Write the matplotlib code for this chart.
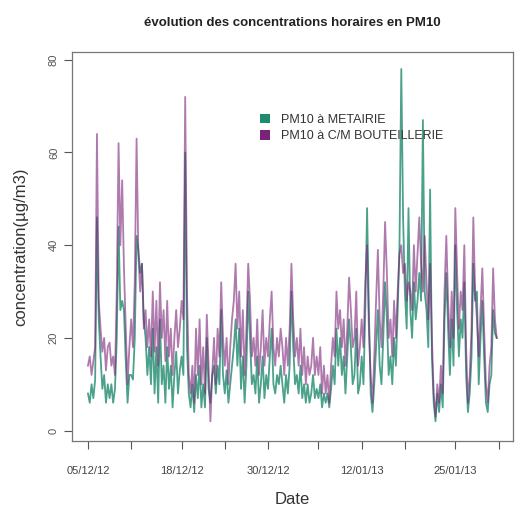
import numpy as np
import pandas as pd
import matplotlib
matplotlib.use("Agg")
import matplotlib.pyplot as plt
from matplotlib.patches import Patch

plt.rcParams["font.family"] = ["Liberation Sans", "DejaVu Sans"]

# PM10 concentrations (µg/m3), one value every 6 hours from 05/12/2012
metairie = [
    8, 6, 10, 7,     11, 46, 24, 16,   9, 12, 6, 10,     7, 10, 6, 9,
    20, 44, 26, 28,  26, 15, 6, 12,    12, 11, 20, 42,   39, 34, 36, 24,
    20, 12, 18, 10,  22, 8, 18, 6,     24, 10, 14, 6,    18, 9, 14, 5,
    12, 17, 8, 13,   16, 12, 60, 18,   8, 5, 10, 4,      12, 7, 14, 5,
    10, 5, 20, 9,    6, 12, 14, 8,     14, 10, 26, 12,   8, 13, 6, 10,
    14, 18, 24, 14,  22, 9, 16, 6,     14, 30, 20, 10,   12, 8, 16, 6,
    10, 16, 7, 12,   9, 16, 22, 10,    8, 12, 10, 14,    10, 6, 12, 8,
    14, 30, 18, 10,  12, 8, 14, 7,     10, 6, 10, 6,     8, 12, 7, 9,
    7, 10, 5, 8,     6, 8, 5, 9,       14, 10, 22, 14,   20, 12, 16, 8,
    16, 24, 18, 10,  12, 22, 8, 10,    16, 10, 26, 48,   26, 8, 4, 10,
    18, 26, 14, 10,  20, 32, 24, 12,   16, 10, 20, 14,   26, 40, 78, 46,
    30, 22, 48, 26,  20, 32, 24, 28,   34, 28, 67, 30,   26, 18, 52, 16,
    6, 2, 8, 4,      10, 5, 24, 34,    22, 12, 24, 14,   40, 26, 16, 24,
    20, 32, 12, 4,   8, 16, 36, 28,    30, 10, 20, 28,   16, 6, 4, 10,
    12, 26, 21, 20,
]
bouteillerie = [
    14, 16, 12, 15,  18, 64, 28, 22,   17, 20, 13, 18,   19, 14, 16, 12,
    30, 62, 40, 54,  35, 22, 10, 18,   24, 18, 32, 63,   38, 30, 36, 22,
    26, 18, 24, 16,  30, 17, 28, 14,   32, 20, 26, 15,   28, 16, 22, 12,
    20, 26, 18, 22,  28, 24, 72, 30,   12, 8, 14, 6,     22, 12, 24, 10,
    18, 8, 25, 14,   2, 12, 20, 10,    22, 16, 32, 20,   14, 20, 10, 18,
    24, 28, 36, 22,  30, 16, 26, 12,   22, 36, 28, 16,   20, 14, 24, 12,
    18, 26, 14, 20,  16, 24, 30, 18,   14, 20, 16, 22,   18, 12, 20, 14,
    22, 36, 24, 16,  20, 14, 22, 12,   18, 10, 16, 12,   14, 20, 12, 16,
    12, 18, 8, 14,   8, 12, 6, 14,     20, 16, 30, 22,   26, 18, 24, 14,
    22, 33, 26, 18,  20, 30, 14, 18,   24, 18, 32, 40,   22, 12, 6, 16,
    28, 39, 24, 18,  30, 45, 34, 20,   24, 16, 28, 20,   30, 38, 40, 34,
    36, 28, 32, 30,  26, 40, 30, 38,   46, 36, 30, 42,   32, 24, 36, 20,
    8, 3, 10, 6,     14, 8, 30, 42,    28, 18, 30, 20,   48, 34, 22, 30,
    26, 40, 18, 6,   12, 22, 46, 30,   24, 16, 26, 35,   22, 10, 6, 14,
    18, 35, 24, 20,
]
dates = pd.date_range("2012-12-05 00:00", periods=len(metairie), freq="6h")

tick_dates = ["2012-12-05", "2012-12-11", "2012-12-18", "2012-12-24", "2012-12-30",
              "2013-01-06", "2013-01-12", "2013-01-18", "2013-01-25", "2013-01-31"]
tick_labels = ["05/12/12", "", "18/12/12", "", "30/12/12",
               "", "12/01/13", "", "25/01/13", ""]

green = "#1f8a6e"
purple = "#7a2277"

fig = plt.figure(figsize=(5.15, 5.09), dpi=100)
ax = fig.add_axes([0.140, 0.134, 0.856, 0.764])

ax.plot(dates, metairie, color=green, lw=1.3, alpha=0.8)
ax.plot(dates, bouteillerie, color=purple, lw=1.3, alpha=0.6)

ax.set_ylim(-2.2, 81.7)
ax.set_xlim(pd.Timestamp("2012-12-05") - pd.Timedelta(days=2.2),
            pd.Timestamp("2012-12-05") + pd.Timedelta(days=59.0))
ax.set_yticks([0, 20, 40, 60, 80])
ax.set_yticklabels(["0", "20", "40", "60", "80"], rotation=90, va="center")
ax.set_xticks(pd.to_datetime(tick_dates))
ax.set_xticklabels(tick_labels)
ax.tick_params(axis="both", labelsize=8, colors="#555555", length=6, width=0.8)
ax.tick_params(axis="x", labelcolor="#444444", pad=12)
for s in ax.spines.values():
    s.set_color("#777777")
    s.set_linewidth(0.9)

ax.set_title("évolution des concentrations horaires en PM10", fontsize=9.5,
             fontweight="bold", color="#222222", pad=19)
ax.set_ylabel("concentration(µg/m3)", fontsize=12, color="#333333", labelpad=15)
ax.set_xlabel("Date", fontsize=12, color="#333333", labelpad=12)

handles = [Patch(facecolor=green, edgecolor="none"),
           Patch(facecolor=purple, edgecolor="none")]
ax.legend(handles, ["PM10 à METAIRIE", "PM10 à C/M BOUTEILLERIE"],
          loc="upper left", bbox_to_anchor=(0.40, 0.87), frameon=False,
          fontsize=9, handlelength=0.8, handleheight=0.8, handletextpad=0.9,
          labelspacing=0.35, labelcolor="#333333")

fig.savefig("out.png", dpi=100)
